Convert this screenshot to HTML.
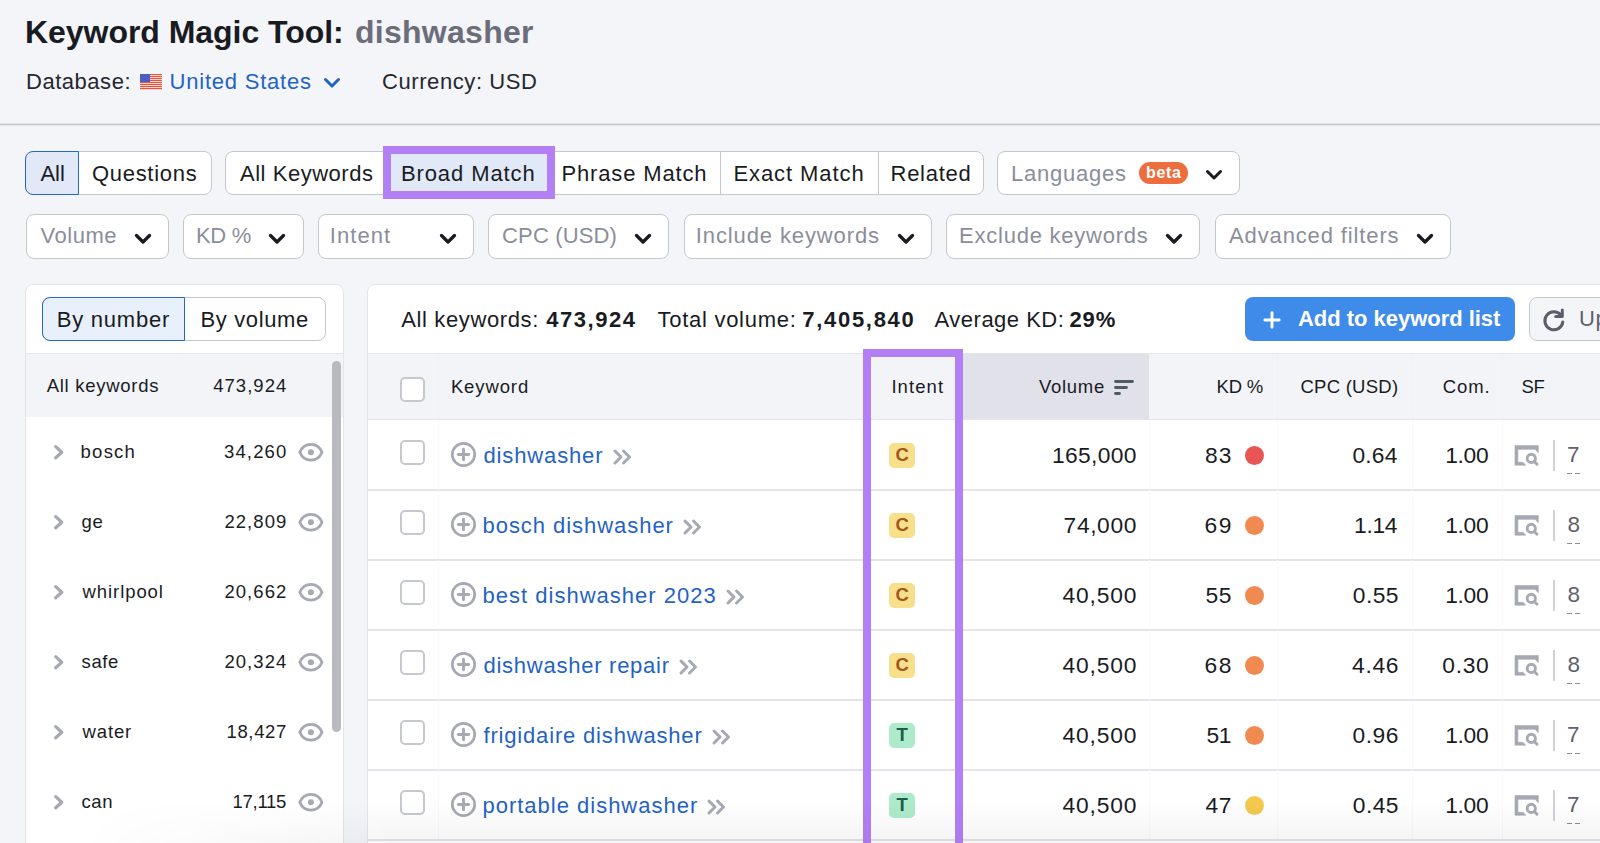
<!DOCTYPE html>
<html><head><meta charset="utf-8"><style>
html,body{margin:0;padding:0;width:1600px;height:843px;overflow:hidden;background:#f4f5f9;}
body{position:relative;font-family:'Liberation Sans', sans-serif;}
.t{position:absolute;white-space:pre;font-family:'Liberation Sans', sans-serif;}
</style></head><body>
<div class="t" style="left:25.00px;top:16.11px;font-size:32px;line-height:32px;color:#191b23;font-weight:700;letter-spacing:-0.043px;">Keyword Magic Tool:</div>
<div class="t" style="left:355.00px;top:16.11px;font-size:32px;line-height:32px;color:#6b6e7a;font-weight:700;letter-spacing:0.266px;">dishwasher</div>
<div class="t" style="left:26.00px;top:70.88px;font-size:22px;line-height:22px;color:#25272f;font-weight:400;letter-spacing:0.528px;">Database:</div>
<svg style="position:absolute;left:140px;top:74px;overflow:visible" width="22" height="16" viewBox="0 0 22 16"><rect width="22" height="16" fill="#e8523f"/><rect y="1" width="22" height="1" fill="#f4d6d0"/><rect y="3" width="22" height="1" fill="#f4d6d0"/><rect y="5" width="22" height="1" fill="#f4d6d0"/><rect y="7" width="22" height="1" fill="#f4d6d0"/><rect y="9" width="22" height="1" fill="#f4d6d0"/><rect y="11" width="22" height="1" fill="#f4d6d0"/><rect y="13" width="22" height="1" fill="#f4d6d0"/><rect y="15" width="22" height="1" fill="#f4d6d0"/><rect width="10" height="8" fill="#4f5cc2"/></svg>
<div class="t" style="left:169.60px;top:70.88px;font-size:22px;line-height:22px;color:#1f63c6;font-weight:400;letter-spacing:0.777px;">United States</div>
<svg style="position:absolute;left:322px;top:76px;overflow:visible" width="20" height="14" viewBox="0 0 20 14"><path d="M3.5 3.5 L10 10 L16.5 3.5" fill="none" stroke="#1f63c6" stroke-width="3" stroke-linecap="round" stroke-linejoin="round"/></svg>
<div class="t" style="left:382.00px;top:70.88px;font-size:22px;line-height:22px;color:#25272f;font-weight:400;letter-spacing:0.581px;">Currency: USD</div>
<div style="position:absolute;left:0px;top:123px;width:1600px;height:3px;box-sizing:border-box;background:linear-gradient(#e3e4ea 0 33.3%, #c4c7cf 33.3% 66.6%, #e3e4ea 66.6%)"></div>
<div style="position:absolute;left:25px;top:151px;width:186.5px;height:44px;box-sizing:border-box;background:#fff;border:1px solid #c4c7cf;border-radius:8px"></div>
<div style="position:absolute;left:25px;top:151px;width:54px;height:44px;box-sizing:border-box;background:#e1e9f8;border:1.5px solid #2568cc;border-radius:8px 0 0 8px;"></div>
<div class="t" style="left:40.40px;top:163.38px;font-size:22px;line-height:22px;color:#191b23;font-weight:400;letter-spacing:0.019px;">All</div>
<div class="t" style="left:91.90px;top:163.38px;font-size:22px;line-height:22px;color:#191b23;font-weight:400;letter-spacing:0.718px;">Questions</div>
<div style="position:absolute;left:225px;top:151px;width:758.5px;height:44px;box-sizing:border-box;background:#fff;border:1px solid #c4c7cf;border-radius:8px"></div>
<div class="t" style="left:240.00px;top:163.38px;font-size:22px;line-height:22px;color:#191b23;font-weight:400;letter-spacing:0.531px;">All Keywords</div>
<div style="position:absolute;left:383px;top:151px;width:172px;height:44px;box-sizing:border-box;background:#e1e9f8;border:1.5px solid #2568cc;"></div>
<div class="t" style="left:400.90px;top:163.38px;font-size:22px;line-height:22px;color:#191b23;font-weight:400;letter-spacing:0.911px;">Broad Match</div>
<div class="t" style="left:561.50px;top:163.38px;font-size:22px;line-height:22px;color:#191b23;font-weight:400;letter-spacing:0.846px;">Phrase Match</div>
<div style="position:absolute;left:720.3px;top:151px;width:1px;height:44px;box-sizing:border-box;background:#c4c7cf"></div>
<div class="t" style="left:733.40px;top:163.38px;font-size:22px;line-height:22px;color:#191b23;font-weight:400;letter-spacing:0.929px;">Exact Match</div>
<div style="position:absolute;left:877.5px;top:151px;width:1px;height:44px;box-sizing:border-box;background:#c4c7cf"></div>
<div class="t" style="left:890.60px;top:163.38px;font-size:22px;line-height:22px;color:#191b23;font-weight:400;letter-spacing:0.701px;">Related</div>
<div style="position:absolute;left:997px;top:151px;width:243px;height:44px;box-sizing:border-box;background:#fff;border:1px solid #c4c7cf;border-radius:8px"></div>
<div class="t" style="left:1011.00px;top:163.38px;font-size:22px;line-height:22px;color:#8a8e9b;font-weight:400;letter-spacing:0.765px;">Languages</div>
<div style="position:absolute;left:1139px;top:162px;width:49px;height:22px;box-sizing:border-box;background:#ee6d3d;border-radius:11px"></div>
<div class="t" style="left:1146.00px;top:165.46px;font-size:16px;line-height:16px;color:#fff;font-weight:700;letter-spacing:0.667px;">beta</div>
<svg style="position:absolute;left:1205px;top:168px;overflow:visible" width="18" height="14" viewBox="0 0 18 14"><path d="M2.5 3.5 L9 10 L15.5 3.5" fill="none" stroke="#191b23" stroke-width="3" stroke-linecap="round" stroke-linejoin="round"/></svg>
<div style="position:absolute;left:383px;top:146px;width:172px;height:52.5px;box-sizing:border-box;border:8px solid #b27ff4"></div>
<div style="position:absolute;left:25.5px;top:214px;width:143.5px;height:44.5px;box-sizing:border-box;background:#fff;border:1px solid #c4c7cf;border-radius:8px"></div>
<div class="t" style="left:40.60px;top:224.88px;font-size:22px;line-height:22px;color:#8a8e9b;font-weight:400;letter-spacing:0.491px;">Volume</div>
<svg style="position:absolute;left:133.5px;top:231.5px;overflow:visible" width="18" height="14" viewBox="0 0 18 14"><path d="M2.5 3.5 L9 10 L15.5 3.5" fill="none" stroke="#191b23" stroke-width="3.3" stroke-linecap="round" stroke-linejoin="round"/></svg>
<div style="position:absolute;left:183px;top:214px;width:120.5px;height:44.5px;box-sizing:border-box;background:#fff;border:1px solid #c4c7cf;border-radius:8px"></div>
<div class="t" style="left:196.00px;top:224.88px;font-size:22px;line-height:22px;color:#8a8e9b;font-weight:400;letter-spacing:-0.300px;">KD %</div>
<svg style="position:absolute;left:268px;top:231.5px;overflow:visible" width="18" height="14" viewBox="0 0 18 14"><path d="M2.5 3.5 L9 10 L15.5 3.5" fill="none" stroke="#191b23" stroke-width="3.3" stroke-linecap="round" stroke-linejoin="round"/></svg>
<div style="position:absolute;left:317.5px;top:214px;width:156.8px;height:44.5px;box-sizing:border-box;background:#fff;border:1px solid #c4c7cf;border-radius:8px"></div>
<div class="t" style="left:329.80px;top:224.88px;font-size:22px;line-height:22px;color:#8a8e9b;font-weight:400;letter-spacing:1.054px;">Intent</div>
<svg style="position:absolute;left:439px;top:231.5px;overflow:visible" width="18" height="14" viewBox="0 0 18 14"><path d="M2.5 3.5 L9 10 L15.5 3.5" fill="none" stroke="#191b23" stroke-width="3.3" stroke-linecap="round" stroke-linejoin="round"/></svg>
<div style="position:absolute;left:488px;top:214px;width:180.79999999999995px;height:44.5px;box-sizing:border-box;background:#fff;border:1px solid #c4c7cf;border-radius:8px"></div>
<div class="t" style="left:502.00px;top:224.88px;font-size:22px;line-height:22px;color:#8a8e9b;font-weight:400;letter-spacing:0.158px;">CPC (USD)</div>
<svg style="position:absolute;left:634px;top:231.5px;overflow:visible" width="18" height="14" viewBox="0 0 18 14"><path d="M2.5 3.5 L9 10 L15.5 3.5" fill="none" stroke="#191b23" stroke-width="3.3" stroke-linecap="round" stroke-linejoin="round"/></svg>
<div style="position:absolute;left:683.5px;top:214px;width:248.5px;height:44.5px;box-sizing:border-box;background:#fff;border:1px solid #c4c7cf;border-radius:8px"></div>
<div class="t" style="left:695.80px;top:224.88px;font-size:22px;line-height:22px;color:#8a8e9b;font-weight:400;letter-spacing:0.882px;">Include keywords</div>
<svg style="position:absolute;left:897px;top:231.5px;overflow:visible" width="18" height="14" viewBox="0 0 18 14"><path d="M2.5 3.5 L9 10 L15.5 3.5" fill="none" stroke="#191b23" stroke-width="3.3" stroke-linecap="round" stroke-linejoin="round"/></svg>
<div style="position:absolute;left:946px;top:214px;width:254px;height:44.5px;box-sizing:border-box;background:#fff;border:1px solid #c4c7cf;border-radius:8px"></div>
<div class="t" style="left:959.00px;top:224.88px;font-size:22px;line-height:22px;color:#8a8e9b;font-weight:400;letter-spacing:0.767px;">Exclude keywords</div>
<svg style="position:absolute;left:1165px;top:231.5px;overflow:visible" width="18" height="14" viewBox="0 0 18 14"><path d="M2.5 3.5 L9 10 L15.5 3.5" fill="none" stroke="#191b23" stroke-width="3.3" stroke-linecap="round" stroke-linejoin="round"/></svg>
<div style="position:absolute;left:1214.5px;top:214px;width:236.79999999999995px;height:44.5px;box-sizing:border-box;background:#fff;border:1px solid #c4c7cf;border-radius:8px"></div>
<div class="t" style="left:1229.00px;top:224.88px;font-size:22px;line-height:22px;color:#8a8e9b;font-weight:400;letter-spacing:0.872px;">Advanced filters</div>
<svg style="position:absolute;left:1416px;top:231.5px;overflow:visible" width="18" height="14" viewBox="0 0 18 14"><path d="M2.5 3.5 L9 10 L15.5 3.5" fill="none" stroke="#191b23" stroke-width="3.3" stroke-linecap="round" stroke-linejoin="round"/></svg>
<div style="position:absolute;left:25px;top:284px;width:319px;height:600px;box-sizing:border-box;background:#fff;border:1px solid #e3e5ea;border-radius:8px"></div>
<div style="position:absolute;left:42px;top:297px;width:283.5px;height:44px;box-sizing:border-box;background:#fff;border:1px solid #c4c7cf;border-radius:8px"></div>
<div style="position:absolute;left:42px;top:297px;width:142.5px;height:44px;box-sizing:border-box;background:#e8f0fb;border:1.5px solid #2568cc;border-radius:8px 0 0 8px"></div>
<div class="t" style="left:56.70px;top:308.88px;font-size:22px;line-height:22px;color:#191b23;font-weight:400;letter-spacing:0.768px;">By number</div>
<div class="t" style="left:200.40px;top:308.88px;font-size:22px;line-height:22px;color:#191b23;font-weight:400;letter-spacing:0.654px;">By volume</div>
<div style="position:absolute;left:26px;top:353px;width:317px;height:1px;box-sizing:border-box;background:#e3e5ea"></div>
<div style="position:absolute;left:26px;top:354px;width:317px;height:63px;box-sizing:border-box;background:#f3f4f8"></div>
<div class="t" style="left:46.70px;top:377.34px;font-size:18.5px;line-height:18.5px;color:#191b23;font-weight:400;letter-spacing:0.719px;">All keywords</div>
<div class="t" style="left:213.20px;top:377.34px;font-size:18.5px;line-height:18.5px;color:#191b23;font-weight:400;letter-spacing:1.036px;">473,924</div>
<svg style="position:absolute;left:52px;top:443px;overflow:visible" width="14" height="18" viewBox="0 0 14 18"><path d="M3.7 3.6 L9.8 9.2 L3.7 14.8" fill="none" stroke="#a6a9b3" stroke-width="3.2" stroke-linecap="round" stroke-linejoin="round"/></svg>
<div class="t" style="left:80.60px;top:443.14px;font-size:18.5px;line-height:18.5px;color:#191b23;font-weight:400;letter-spacing:1.231px;">bosch</div>
<div class="t" style="left:224.00px;top:443.14px;font-size:18.5px;line-height:18.5px;color:#191b23;font-weight:400;letter-spacing:1.141px;">34,260</div>
<svg style="position:absolute;left:297px;top:442px;overflow:visible" width="28" height="20" viewBox="0 0 28 20"><path d="M2.8 10.3 C5 5 9 2.4 13.9 2.4 C18.8 2.4 22.8 5 25 10.3 C22.8 15.6 18.8 18.2 13.9 18.2 C9 18.2 5 15.6 2.8 10.3 Z" fill="none" stroke="#a6a9b3" stroke-width="2.8"/><circle cx="13.9" cy="10.3" r="3" fill="#a6a9b3"/></svg>
<svg style="position:absolute;left:52px;top:513px;overflow:visible" width="14" height="18" viewBox="0 0 14 18"><path d="M3.7 3.6 L9.8 9.2 L3.7 14.8" fill="none" stroke="#a6a9b3" stroke-width="3.2" stroke-linecap="round" stroke-linejoin="round"/></svg>
<div class="t" style="left:81.60px;top:513.14px;font-size:18.5px;line-height:18.5px;color:#191b23;font-weight:400;letter-spacing:0.511px;">ge</div>
<div class="t" style="left:224.40px;top:513.14px;font-size:18.5px;line-height:18.5px;color:#191b23;font-weight:400;letter-spacing:1.061px;">22,809</div>
<svg style="position:absolute;left:297px;top:512px;overflow:visible" width="28" height="20" viewBox="0 0 28 20"><path d="M2.8 10.3 C5 5 9 2.4 13.9 2.4 C18.8 2.4 22.8 5 25 10.3 C22.8 15.6 18.8 18.2 13.9 18.2 C9 18.2 5 15.6 2.8 10.3 Z" fill="none" stroke="#a6a9b3" stroke-width="2.8"/><circle cx="13.9" cy="10.3" r="3" fill="#a6a9b3"/></svg>
<svg style="position:absolute;left:52px;top:583px;overflow:visible" width="14" height="18" viewBox="0 0 14 18"><path d="M3.7 3.6 L9.8 9.2 L3.7 14.8" fill="none" stroke="#a6a9b3" stroke-width="3.2" stroke-linecap="round" stroke-linejoin="round"/></svg>
<div class="t" style="left:82.60px;top:583.14px;font-size:18.5px;line-height:18.5px;color:#191b23;font-weight:400;letter-spacing:0.913px;">whirlpool</div>
<div class="t" style="left:224.40px;top:583.14px;font-size:18.5px;line-height:18.5px;color:#191b23;font-weight:400;letter-spacing:1.061px;">20,662</div>
<svg style="position:absolute;left:297px;top:582px;overflow:visible" width="28" height="20" viewBox="0 0 28 20"><path d="M2.8 10.3 C5 5 9 2.4 13.9 2.4 C18.8 2.4 22.8 5 25 10.3 C22.8 15.6 18.8 18.2 13.9 18.2 C9 18.2 5 15.6 2.8 10.3 Z" fill="none" stroke="#a6a9b3" stroke-width="2.8"/><circle cx="13.9" cy="10.3" r="3" fill="#a6a9b3"/></svg>
<svg style="position:absolute;left:52px;top:653px;overflow:visible" width="14" height="18" viewBox="0 0 14 18"><path d="M3.7 3.6 L9.8 9.2 L3.7 14.8" fill="none" stroke="#a6a9b3" stroke-width="3.2" stroke-linecap="round" stroke-linejoin="round"/></svg>
<div class="t" style="left:81.60px;top:653.14px;font-size:18.5px;line-height:18.5px;color:#191b23;font-weight:400;letter-spacing:0.574px;">safe</div>
<div class="t" style="left:224.40px;top:653.14px;font-size:18.5px;line-height:18.5px;color:#191b23;font-weight:400;letter-spacing:1.061px;">20,324</div>
<svg style="position:absolute;left:297px;top:652px;overflow:visible" width="28" height="20" viewBox="0 0 28 20"><path d="M2.8 10.3 C5 5 9 2.4 13.9 2.4 C18.8 2.4 22.8 5 25 10.3 C22.8 15.6 18.8 18.2 13.9 18.2 C9 18.2 5 15.6 2.8 10.3 Z" fill="none" stroke="#a6a9b3" stroke-width="2.8"/><circle cx="13.9" cy="10.3" r="3" fill="#a6a9b3"/></svg>
<svg style="position:absolute;left:52px;top:723px;overflow:visible" width="14" height="18" viewBox="0 0 14 18"><path d="M3.7 3.6 L9.8 9.2 L3.7 14.8" fill="none" stroke="#a6a9b3" stroke-width="3.2" stroke-linecap="round" stroke-linejoin="round"/></svg>
<div class="t" style="left:82.60px;top:723.14px;font-size:18.5px;line-height:18.5px;color:#191b23;font-weight:400;letter-spacing:0.831px;">water</div>
<div class="t" style="left:226.50px;top:723.14px;font-size:18.5px;line-height:18.5px;color:#191b23;font-weight:400;letter-spacing:0.641px;">18,427</div>
<svg style="position:absolute;left:297px;top:722px;overflow:visible" width="28" height="20" viewBox="0 0 28 20"><path d="M2.8 10.3 C5 5 9 2.4 13.9 2.4 C18.8 2.4 22.8 5 25 10.3 C22.8 15.6 18.8 18.2 13.9 18.2 C9 18.2 5 15.6 2.8 10.3 Z" fill="none" stroke="#a6a9b3" stroke-width="2.8"/><circle cx="13.9" cy="10.3" r="3" fill="#a6a9b3"/></svg>
<svg style="position:absolute;left:52px;top:793px;overflow:visible" width="14" height="18" viewBox="0 0 14 18"><path d="M3.7 3.6 L9.8 9.2 L3.7 14.8" fill="none" stroke="#a6a9b3" stroke-width="3.2" stroke-linecap="round" stroke-linejoin="round"/></svg>
<div class="t" style="left:81.60px;top:793.14px;font-size:18.5px;line-height:18.5px;color:#191b23;font-weight:400;letter-spacing:0.531px;">can</div>
<div class="t" style="left:232.58px;top:793.14px;font-size:18.5px;line-height:18.5px;color:#191b23;font-weight:400;letter-spacing:-0.300px;">17,115</div>
<svg style="position:absolute;left:297px;top:792px;overflow:visible" width="28" height="20" viewBox="0 0 28 20"><path d="M2.8 10.3 C5 5 9 2.4 13.9 2.4 C18.8 2.4 22.8 5 25 10.3 C22.8 15.6 18.8 18.2 13.9 18.2 C9 18.2 5 15.6 2.8 10.3 Z" fill="none" stroke="#a6a9b3" stroke-width="2.8"/><circle cx="13.9" cy="10.3" r="3" fill="#a6a9b3"/></svg>
<div style="position:absolute;left:332px;top:360.5px;width:9px;height:371px;box-sizing:border-box;background:#b9bac0;border-radius:4.5px"></div>
<div style="position:absolute;left:367px;top:284px;width:1300px;height:600px;box-sizing:border-box;background:#fff;border:1px solid #e3e5ea;border-radius:8px"></div>
<div class="t" style="left:401.30px;top:309.08px;font-size:22px;line-height:22px;color:#191b23;font-weight:400;letter-spacing:0.618px;">All keywords:</div>
<div class="t" style="left:546.30px;top:309.08px;font-size:22px;line-height:22px;color:#191b23;font-weight:700;letter-spacing:1.535px;">473,924</div>
<div class="t" style="left:657.50px;top:309.08px;font-size:22px;line-height:22px;color:#191b23;font-weight:400;letter-spacing:0.725px;">Total volume:</div>
<div class="t" style="left:802.30px;top:309.08px;font-size:22px;line-height:22px;color:#191b23;font-weight:700;letter-spacing:1.695px;">7,405,840</div>
<div class="t" style="left:934.60px;top:309.08px;font-size:22px;line-height:22px;color:#191b23;font-weight:400;letter-spacing:0.488px;">Average KD:</div>
<div class="t" style="left:1069.40px;top:309.08px;font-size:22px;line-height:22px;color:#191b23;font-weight:700;letter-spacing:0.915px;">29%</div>
<div style="position:absolute;left:1245px;top:297px;width:270px;height:44px;box-sizing:border-box;background:#3f8bea;border-radius:8px"></div>
<svg style="position:absolute;left:1262px;top:310px;overflow:visible" width="20" height="20" viewBox="0 0 20 20"><path d="M10 2.8 V17.2 M2.8 10 H17.2" stroke="#fff" stroke-width="2.9" stroke-linecap="round"/></svg>
<div class="t" style="left:1298.00px;top:308.38px;font-size:22px;line-height:22px;color:#fff;font-weight:700;letter-spacing:-0.032px;">Add to keyword list</div>
<div style="position:absolute;left:1528.5px;top:297px;width:120px;height:44px;box-sizing:border-box;background:#f4f5f9;border:1px solid #c4c7cf;border-radius:8px"></div>
<svg style="position:absolute;left:1541px;top:307px;overflow:visible" width="26" height="26" viewBox="0 0 26 26"><path d="M20 8.3 A9 9 0 1 0 21.8 15" fill="none" stroke="#5b5e69" stroke-width="3" stroke-linecap="round"/><path d="M21.3 3 V9.6 H14.7" fill="none" stroke="#5b5e69" stroke-width="3" stroke-linecap="round" stroke-linejoin="round"/></svg>
<div class="t" style="left:1579.00px;top:308.38px;font-size:22px;line-height:22px;color:#5e616c;font-weight:400;letter-spacing:0.500px;">Update</div>
<div style="position:absolute;left:368px;top:353px;width:1232px;height:1px;box-sizing:border-box;background:#e3e5ea"></div>
<div style="position:absolute;left:368px;top:354px;width:1232px;height:66px;box-sizing:border-box;background:#f3f4f8"></div>
<div style="position:absolute;left:955px;top:354px;width:194px;height:66px;box-sizing:border-box;background:#e0e1e9"></div>
<div style="position:absolute;left:437.5px;top:354px;width:1px;height:66px;box-sizing:border-box;background:#f0f1f5"></div>
<div style="position:absolute;left:1276.5px;top:354px;width:1px;height:66px;box-sizing:border-box;background:#f0f1f5"></div>
<div style="position:absolute;left:1411.5px;top:354px;width:1px;height:66px;box-sizing:border-box;background:#f0f1f5"></div>
<div style="position:absolute;left:1501.5px;top:354px;width:1px;height:66px;box-sizing:border-box;background:#f0f1f5"></div>
<div style="position:absolute;left:368px;top:418.8px;width:1232px;height:1.6px;box-sizing:border-box;background:#e3e5ea"></div>
<div style="position:absolute;left:400px;top:376.5px;width:25px;height:25px;box-sizing:border-box;background:#fff;border:2px solid #c6c8d0;border-radius:5px"></div>
<div class="t" style="left:450.90px;top:378.34px;font-size:18.5px;line-height:18.5px;color:#191b23;font-weight:400;letter-spacing:0.885px;">Keyword</div>
<div class="t" style="left:891.40px;top:378.34px;font-size:18.5px;line-height:18.5px;color:#191b23;font-weight:400;letter-spacing:1.091px;">Intent</div>
<div class="t" style="left:1039.00px;top:378.34px;font-size:18.5px;line-height:18.5px;color:#191b23;font-weight:400;letter-spacing:0.717px;">Volume</div>
<svg style="position:absolute;left:1113px;top:379px;overflow:visible" width="22" height="17" viewBox="0 0 22 17"><path d="M2.5 2.5 H19.5 M2.5 8.5 H13.5 M2.5 14.5 H6.5" stroke="#4f5b5f" stroke-width="2.8" stroke-linecap="round"/></svg>
<div class="t" style="left:1216.60px;top:378.34px;font-size:18.5px;line-height:18.5px;color:#191b23;font-weight:400;letter-spacing:-0.213px;">KD %</div>
<div class="t" style="left:1300.40px;top:378.34px;font-size:18.5px;line-height:18.5px;color:#191b23;font-weight:400;letter-spacing:0.273px;">CPC (USD)</div>
<div class="t" style="left:1442.80px;top:378.34px;font-size:18.5px;line-height:18.5px;color:#191b23;font-weight:400;letter-spacing:0.880px;">Com.</div>
<div class="t" style="left:1521.38px;top:378.34px;font-size:18.5px;line-height:18.5px;color:#191b23;font-weight:400;letter-spacing:-0.300px;">SF</div>
<div style="position:absolute;left:437.5px;top:420px;width:1px;height:69px;box-sizing:border-box;background:#f9f9fb"></div>
<div style="position:absolute;left:1149px;top:420px;width:1px;height:69px;box-sizing:border-box;background:#f9f9fb"></div>
<div style="position:absolute;left:1276.5px;top:420px;width:1px;height:69px;box-sizing:border-box;background:#f9f9fb"></div>
<div style="position:absolute;left:1411.5px;top:420px;width:1px;height:69px;box-sizing:border-box;background:#f9f9fb"></div>
<div style="position:absolute;left:1501.5px;top:420px;width:1px;height:69px;box-sizing:border-box;background:#f9f9fb"></div>
<div style="position:absolute;left:368px;top:489px;width:1232px;height:1.6px;box-sizing:border-box;background:#e4e5eb"></div>
<div style="position:absolute;left:400px;top:440px;width:25px;height:25px;box-sizing:border-box;background:#fff;border:2px solid #c6c8d0;border-radius:5px"></div>
<svg style="position:absolute;left:450px;top:440.5px;overflow:visible" width="27" height="27" viewBox="0 0 27 27"><circle cx="13.5" cy="13.5" r="11.2" fill="none" stroke="#a6a9b3" stroke-width="2.7"/><path d="M13.5 8.3 V18.7 M8.3 13.5 H18.7" stroke="#a6a9b3" stroke-width="2.9" stroke-linecap="round"/></svg>
<div class="t" style="left:483.50px;top:445.38px;font-size:22px;line-height:22px;color:#1f63c6;font-weight:400;letter-spacing:0.861px;">dishwasher</div>
<svg style="position:absolute;left:612.7px;top:449px;overflow:visible" width="20" height="16" viewBox="0 0 20 16"><path d="M2 2 L8 8 L2 14 M10.5 2 L16.5 8 L10.5 14" fill="none" stroke="#a6a9b3" stroke-width="3" stroke-linecap="round" stroke-linejoin="round"/></svg>
<div style="position:absolute;left:889px;top:443.4px;width:25.5px;height:25px;box-sizing:border-box;background:#f8df8c;border-radius:5px"></div>
<div class="t" style="left:895.60px;top:445.84px;font-size:18.5px;line-height:18.5px;color:#a0561c;font-weight:700;letter-spacing:0.000px;">C</div>
<div class="t" style="left:1052.00px;top:444.20px;font-size:22.8px;line-height:22.8px;color:#191b23;font-weight:400;letter-spacing:0.329px;">165,000</div>
<div class="t" style="left:1205.00px;top:444.20px;font-size:22.8px;line-height:22.8px;color:#191b23;font-weight:400;letter-spacing:1.121px;">83</div>
<div style="position:absolute;left:1245px;top:446px;width:19px;height:19px;border-radius:50%;background:#e95454"></div>
<div class="t" style="left:1352.40px;top:444.20px;font-size:22.8px;line-height:22.8px;color:#191b23;font-weight:400;letter-spacing:0.236px;">0.64</div>
<div class="t" style="left:1445.21px;top:444.20px;font-size:22.8px;line-height:22.8px;color:#191b23;font-weight:400;letter-spacing:-0.300px;">1.00</div>
<svg style="position:absolute;left:1514px;top:444.5px;overflow:visible" width="26" height="22" viewBox="0 0 26 22"><path d="M1 0.5 H24.3 V7.7 L21 4.3 H3.9 V17.3 H9.1 L11.7 20.2 H1 Z" fill="#a6a9b3" stroke="#a6a9b3" stroke-width="0.6" stroke-linejoin="round"/><circle cx="17.3" cy="13.4" r="4.1" fill="none" stroke="#a6a9b3" stroke-width="2.9"/><path d="M20.3 16.5 L23 19.3" stroke="#a6a9b3" stroke-width="2.9" stroke-linecap="round"/></svg>
<div style="position:absolute;left:1553px;top:439.5px;width:1.5px;height:31px;box-sizing:border-box;background:#d0d2d9"></div>
<div class="t" style="left:1567.00px;top:444.45px;font-size:22.5px;line-height:22.5px;color:#5e616c;font-weight:400;letter-spacing:0.000px;">7</div>
<div style="position:absolute;left:1567px;top:472.5px;width:5px;height:1.5px;box-sizing:border-box;background:#8a8e9b"></div>
<div style="position:absolute;left:1575px;top:472.5px;width:5px;height:1.5px;box-sizing:border-box;background:#8a8e9b"></div>
<div style="position:absolute;left:437.5px;top:490px;width:1px;height:69px;box-sizing:border-box;background:#f9f9fb"></div>
<div style="position:absolute;left:1149px;top:490px;width:1px;height:69px;box-sizing:border-box;background:#f9f9fb"></div>
<div style="position:absolute;left:1276.5px;top:490px;width:1px;height:69px;box-sizing:border-box;background:#f9f9fb"></div>
<div style="position:absolute;left:1411.5px;top:490px;width:1px;height:69px;box-sizing:border-box;background:#f9f9fb"></div>
<div style="position:absolute;left:1501.5px;top:490px;width:1px;height:69px;box-sizing:border-box;background:#f9f9fb"></div>
<div style="position:absolute;left:368px;top:559px;width:1232px;height:1.6px;box-sizing:border-box;background:#e4e5eb"></div>
<div style="position:absolute;left:400px;top:510px;width:25px;height:25px;box-sizing:border-box;background:#fff;border:2px solid #c6c8d0;border-radius:5px"></div>
<svg style="position:absolute;left:450px;top:510.5px;overflow:visible" width="27" height="27" viewBox="0 0 27 27"><circle cx="13.5" cy="13.5" r="11.2" fill="none" stroke="#a6a9b3" stroke-width="2.7"/><path d="M13.5 8.3 V18.7 M8.3 13.5 H18.7" stroke="#a6a9b3" stroke-width="2.9" stroke-linecap="round"/></svg>
<div class="t" style="left:482.50px;top:515.38px;font-size:22px;line-height:22px;color:#1f63c6;font-weight:400;letter-spacing:0.955px;">bosch dishwasher</div>
<svg style="position:absolute;left:683.1px;top:519px;overflow:visible" width="20" height="16" viewBox="0 0 20 16"><path d="M2 2 L8 8 L2 14 M10.5 2 L16.5 8 L10.5 14" fill="none" stroke="#a6a9b3" stroke-width="3" stroke-linecap="round" stroke-linejoin="round"/></svg>
<div style="position:absolute;left:889px;top:513.4px;width:25.5px;height:25px;box-sizing:border-box;background:#f8df8c;border-radius:5px"></div>
<div class="t" style="left:895.60px;top:515.84px;font-size:18.5px;line-height:18.5px;color:#a0561c;font-weight:700;letter-spacing:0.000px;">C</div>
<div class="t" style="left:1063.60px;top:514.20px;font-size:22.8px;line-height:22.8px;color:#191b23;font-weight:400;letter-spacing:0.610px;">74,000</div>
<div class="t" style="left:1204.42px;top:514.20px;font-size:22.8px;line-height:22.8px;color:#191b23;font-weight:400;letter-spacing:1.700px;">69</div>
<div style="position:absolute;left:1245px;top:516px;width:19px;height:19px;border-radius:50%;background:#f08a50"></div>
<div class="t" style="left:1354.01px;top:514.20px;font-size:22.8px;line-height:22.8px;color:#191b23;font-weight:400;letter-spacing:-0.300px;">1.14</div>
<div class="t" style="left:1445.21px;top:514.20px;font-size:22.8px;line-height:22.8px;color:#191b23;font-weight:400;letter-spacing:-0.300px;">1.00</div>
<svg style="position:absolute;left:1514px;top:514.5px;overflow:visible" width="26" height="22" viewBox="0 0 26 22"><path d="M1 0.5 H24.3 V7.7 L21 4.3 H3.9 V17.3 H9.1 L11.7 20.2 H1 Z" fill="#a6a9b3" stroke="#a6a9b3" stroke-width="0.6" stroke-linejoin="round"/><circle cx="17.3" cy="13.4" r="4.1" fill="none" stroke="#a6a9b3" stroke-width="2.9"/><path d="M20.3 16.5 L23 19.3" stroke="#a6a9b3" stroke-width="2.9" stroke-linecap="round"/></svg>
<div style="position:absolute;left:1553px;top:509.5px;width:1.5px;height:31px;box-sizing:border-box;background:#d0d2d9"></div>
<div class="t" style="left:1567.50px;top:514.45px;font-size:22.5px;line-height:22.5px;color:#5e616c;font-weight:400;letter-spacing:0.000px;">8</div>
<div style="position:absolute;left:1567px;top:542.5px;width:5px;height:1.5px;box-sizing:border-box;background:#8a8e9b"></div>
<div style="position:absolute;left:1575px;top:542.5px;width:5px;height:1.5px;box-sizing:border-box;background:#8a8e9b"></div>
<div style="position:absolute;left:437.5px;top:560px;width:1px;height:69px;box-sizing:border-box;background:#f9f9fb"></div>
<div style="position:absolute;left:1149px;top:560px;width:1px;height:69px;box-sizing:border-box;background:#f9f9fb"></div>
<div style="position:absolute;left:1276.5px;top:560px;width:1px;height:69px;box-sizing:border-box;background:#f9f9fb"></div>
<div style="position:absolute;left:1411.5px;top:560px;width:1px;height:69px;box-sizing:border-box;background:#f9f9fb"></div>
<div style="position:absolute;left:1501.5px;top:560px;width:1px;height:69px;box-sizing:border-box;background:#f9f9fb"></div>
<div style="position:absolute;left:368px;top:629px;width:1232px;height:1.6px;box-sizing:border-box;background:#e4e5eb"></div>
<div style="position:absolute;left:400px;top:580px;width:25px;height:25px;box-sizing:border-box;background:#fff;border:2px solid #c6c8d0;border-radius:5px"></div>
<svg style="position:absolute;left:450px;top:580.5px;overflow:visible" width="27" height="27" viewBox="0 0 27 27"><circle cx="13.5" cy="13.5" r="11.2" fill="none" stroke="#a6a9b3" stroke-width="2.7"/><path d="M13.5 8.3 V18.7 M8.3 13.5 H18.7" stroke="#a6a9b3" stroke-width="2.9" stroke-linecap="round"/></svg>
<div class="t" style="left:482.50px;top:585.38px;font-size:22px;line-height:22px;color:#1f63c6;font-weight:400;letter-spacing:1.016px;">best dishwasher 2023</div>
<svg style="position:absolute;left:726.1px;top:589px;overflow:visible" width="20" height="16" viewBox="0 0 20 16"><path d="M2 2 L8 8 L2 14 M10.5 2 L16.5 8 L10.5 14" fill="none" stroke="#a6a9b3" stroke-width="3" stroke-linecap="round" stroke-linejoin="round"/></svg>
<div style="position:absolute;left:889px;top:583.4px;width:25.5px;height:25px;box-sizing:border-box;background:#f8df8c;border-radius:5px"></div>
<div class="t" style="left:895.60px;top:585.84px;font-size:18.5px;line-height:18.5px;color:#a0561c;font-weight:700;letter-spacing:0.000px;">C</div>
<div class="t" style="left:1062.50px;top:584.20px;font-size:22.8px;line-height:22.8px;color:#191b23;font-weight:400;letter-spacing:0.830px;">40,500</div>
<div class="t" style="left:1205.50px;top:584.20px;font-size:22.8px;line-height:22.8px;color:#191b23;font-weight:400;letter-spacing:0.621px;">55</div>
<div style="position:absolute;left:1245px;top:586px;width:19px;height:19px;border-radius:50%;background:#f08a50"></div>
<div class="t" style="left:1352.80px;top:584.20px;font-size:22.8px;line-height:22.8px;color:#191b23;font-weight:400;letter-spacing:0.436px;">0.55</div>
<div class="t" style="left:1445.21px;top:584.20px;font-size:22.8px;line-height:22.8px;color:#191b23;font-weight:400;letter-spacing:-0.300px;">1.00</div>
<svg style="position:absolute;left:1514px;top:584.5px;overflow:visible" width="26" height="22" viewBox="0 0 26 22"><path d="M1 0.5 H24.3 V7.7 L21 4.3 H3.9 V17.3 H9.1 L11.7 20.2 H1 Z" fill="#a6a9b3" stroke="#a6a9b3" stroke-width="0.6" stroke-linejoin="round"/><circle cx="17.3" cy="13.4" r="4.1" fill="none" stroke="#a6a9b3" stroke-width="2.9"/><path d="M20.3 16.5 L23 19.3" stroke="#a6a9b3" stroke-width="2.9" stroke-linecap="round"/></svg>
<div style="position:absolute;left:1553px;top:579.5px;width:1.5px;height:31px;box-sizing:border-box;background:#d0d2d9"></div>
<div class="t" style="left:1567.50px;top:584.45px;font-size:22.5px;line-height:22.5px;color:#5e616c;font-weight:400;letter-spacing:0.000px;">8</div>
<div style="position:absolute;left:1567px;top:612.5px;width:5px;height:1.5px;box-sizing:border-box;background:#8a8e9b"></div>
<div style="position:absolute;left:1575px;top:612.5px;width:5px;height:1.5px;box-sizing:border-box;background:#8a8e9b"></div>
<div style="position:absolute;left:437.5px;top:630px;width:1px;height:69px;box-sizing:border-box;background:#f9f9fb"></div>
<div style="position:absolute;left:1149px;top:630px;width:1px;height:69px;box-sizing:border-box;background:#f9f9fb"></div>
<div style="position:absolute;left:1276.5px;top:630px;width:1px;height:69px;box-sizing:border-box;background:#f9f9fb"></div>
<div style="position:absolute;left:1411.5px;top:630px;width:1px;height:69px;box-sizing:border-box;background:#f9f9fb"></div>
<div style="position:absolute;left:1501.5px;top:630px;width:1px;height:69px;box-sizing:border-box;background:#f9f9fb"></div>
<div style="position:absolute;left:368px;top:699px;width:1232px;height:1.6px;box-sizing:border-box;background:#e4e5eb"></div>
<div style="position:absolute;left:400px;top:650px;width:25px;height:25px;box-sizing:border-box;background:#fff;border:2px solid #c6c8d0;border-radius:5px"></div>
<svg style="position:absolute;left:450px;top:650.5px;overflow:visible" width="27" height="27" viewBox="0 0 27 27"><circle cx="13.5" cy="13.5" r="11.2" fill="none" stroke="#a6a9b3" stroke-width="2.7"/><path d="M13.5 8.3 V18.7 M8.3 13.5 H18.7" stroke="#a6a9b3" stroke-width="2.9" stroke-linecap="round"/></svg>
<div class="t" style="left:483.50px;top:655.38px;font-size:22px;line-height:22px;color:#1f63c6;font-weight:400;letter-spacing:0.743px;">dishwasher repair</div>
<svg style="position:absolute;left:679.2px;top:659px;overflow:visible" width="20" height="16" viewBox="0 0 20 16"><path d="M2 2 L8 8 L2 14 M10.5 2 L16.5 8 L10.5 14" fill="none" stroke="#a6a9b3" stroke-width="3" stroke-linecap="round" stroke-linejoin="round"/></svg>
<div style="position:absolute;left:889px;top:653.4px;width:25.5px;height:25px;box-sizing:border-box;background:#f8df8c;border-radius:5px"></div>
<div class="t" style="left:895.60px;top:655.84px;font-size:18.5px;line-height:18.5px;color:#a0561c;font-weight:700;letter-spacing:0.000px;">C</div>
<div class="t" style="left:1062.50px;top:654.20px;font-size:22.8px;line-height:22.8px;color:#191b23;font-weight:400;letter-spacing:0.830px;">40,500</div>
<div class="t" style="left:1204.42px;top:654.20px;font-size:22.8px;line-height:22.8px;color:#191b23;font-weight:400;letter-spacing:1.700px;">68</div>
<div style="position:absolute;left:1245px;top:656px;width:19px;height:19px;border-radius:50%;background:#f08a50"></div>
<div class="t" style="left:1352.00px;top:654.20px;font-size:22.8px;line-height:22.8px;color:#191b23;font-weight:400;letter-spacing:0.703px;">4.46</div>
<div class="t" style="left:1442.30px;top:654.20px;font-size:22.8px;line-height:22.8px;color:#191b23;font-weight:400;letter-spacing:0.670px;">0.30</div>
<svg style="position:absolute;left:1514px;top:654.5px;overflow:visible" width="26" height="22" viewBox="0 0 26 22"><path d="M1 0.5 H24.3 V7.7 L21 4.3 H3.9 V17.3 H9.1 L11.7 20.2 H1 Z" fill="#a6a9b3" stroke="#a6a9b3" stroke-width="0.6" stroke-linejoin="round"/><circle cx="17.3" cy="13.4" r="4.1" fill="none" stroke="#a6a9b3" stroke-width="2.9"/><path d="M20.3 16.5 L23 19.3" stroke="#a6a9b3" stroke-width="2.9" stroke-linecap="round"/></svg>
<div style="position:absolute;left:1553px;top:649.5px;width:1.5px;height:31px;box-sizing:border-box;background:#d0d2d9"></div>
<div class="t" style="left:1567.50px;top:654.45px;font-size:22.5px;line-height:22.5px;color:#5e616c;font-weight:400;letter-spacing:0.000px;">8</div>
<div style="position:absolute;left:1567px;top:682.5px;width:5px;height:1.5px;box-sizing:border-box;background:#8a8e9b"></div>
<div style="position:absolute;left:1575px;top:682.5px;width:5px;height:1.5px;box-sizing:border-box;background:#8a8e9b"></div>
<div style="position:absolute;left:437.5px;top:700px;width:1px;height:69px;box-sizing:border-box;background:#f9f9fb"></div>
<div style="position:absolute;left:1149px;top:700px;width:1px;height:69px;box-sizing:border-box;background:#f9f9fb"></div>
<div style="position:absolute;left:1276.5px;top:700px;width:1px;height:69px;box-sizing:border-box;background:#f9f9fb"></div>
<div style="position:absolute;left:1411.5px;top:700px;width:1px;height:69px;box-sizing:border-box;background:#f9f9fb"></div>
<div style="position:absolute;left:1501.5px;top:700px;width:1px;height:69px;box-sizing:border-box;background:#f9f9fb"></div>
<div style="position:absolute;left:368px;top:769px;width:1232px;height:1.6px;box-sizing:border-box;background:#e4e5eb"></div>
<div style="position:absolute;left:400px;top:720px;width:25px;height:25px;box-sizing:border-box;background:#fff;border:2px solid #c6c8d0;border-radius:5px"></div>
<svg style="position:absolute;left:450px;top:720.5px;overflow:visible" width="27" height="27" viewBox="0 0 27 27"><circle cx="13.5" cy="13.5" r="11.2" fill="none" stroke="#a6a9b3" stroke-width="2.7"/><path d="M13.5 8.3 V18.7 M8.3 13.5 H18.7" stroke="#a6a9b3" stroke-width="2.9" stroke-linecap="round"/></svg>
<div class="t" style="left:483.50px;top:725.38px;font-size:22px;line-height:22px;color:#1f63c6;font-weight:400;letter-spacing:0.823px;">frigidaire dishwasher</div>
<svg style="position:absolute;left:711.9px;top:729px;overflow:visible" width="20" height="16" viewBox="0 0 20 16"><path d="M2 2 L8 8 L2 14 M10.5 2 L16.5 8 L10.5 14" fill="none" stroke="#a6a9b3" stroke-width="3" stroke-linecap="round" stroke-linejoin="round"/></svg>
<div style="position:absolute;left:889px;top:723.4px;width:25.5px;height:25px;box-sizing:border-box;background:#aeebca;border-radius:5px"></div>
<div class="t" style="left:896.40px;top:725.74px;font-size:18.5px;line-height:18.5px;color:#1b5c4a;font-weight:700;letter-spacing:0.000px;">T</div>
<div class="t" style="left:1062.50px;top:724.20px;font-size:22.8px;line-height:22.8px;color:#191b23;font-weight:400;letter-spacing:0.830px;">40,500</div>
<div class="t" style="left:1206.42px;top:724.20px;font-size:22.8px;line-height:22.8px;color:#191b23;font-weight:400;letter-spacing:-0.300px;">51</div>
<div style="position:absolute;left:1245px;top:726px;width:19px;height:19px;border-radius:50%;background:#f08a50"></div>
<div class="t" style="left:1352.40px;top:724.20px;font-size:22.8px;line-height:22.8px;color:#191b23;font-weight:400;letter-spacing:0.570px;">0.96</div>
<div class="t" style="left:1445.21px;top:724.20px;font-size:22.8px;line-height:22.8px;color:#191b23;font-weight:400;letter-spacing:-0.300px;">1.00</div>
<svg style="position:absolute;left:1514px;top:724.5px;overflow:visible" width="26" height="22" viewBox="0 0 26 22"><path d="M1 0.5 H24.3 V7.7 L21 4.3 H3.9 V17.3 H9.1 L11.7 20.2 H1 Z" fill="#a6a9b3" stroke="#a6a9b3" stroke-width="0.6" stroke-linejoin="round"/><circle cx="17.3" cy="13.4" r="4.1" fill="none" stroke="#a6a9b3" stroke-width="2.9"/><path d="M20.3 16.5 L23 19.3" stroke="#a6a9b3" stroke-width="2.9" stroke-linecap="round"/></svg>
<div style="position:absolute;left:1553px;top:719.5px;width:1.5px;height:31px;box-sizing:border-box;background:#d0d2d9"></div>
<div class="t" style="left:1567.00px;top:724.45px;font-size:22.5px;line-height:22.5px;color:#5e616c;font-weight:400;letter-spacing:0.000px;">7</div>
<div style="position:absolute;left:1567px;top:752.5px;width:5px;height:1.5px;box-sizing:border-box;background:#8a8e9b"></div>
<div style="position:absolute;left:1575px;top:752.5px;width:5px;height:1.5px;box-sizing:border-box;background:#8a8e9b"></div>
<div style="position:absolute;left:437.5px;top:770px;width:1px;height:69px;box-sizing:border-box;background:#f9f9fb"></div>
<div style="position:absolute;left:1149px;top:770px;width:1px;height:69px;box-sizing:border-box;background:#f9f9fb"></div>
<div style="position:absolute;left:1276.5px;top:770px;width:1px;height:69px;box-sizing:border-box;background:#f9f9fb"></div>
<div style="position:absolute;left:1411.5px;top:770px;width:1px;height:69px;box-sizing:border-box;background:#f9f9fb"></div>
<div style="position:absolute;left:1501.5px;top:770px;width:1px;height:69px;box-sizing:border-box;background:#f9f9fb"></div>
<div style="position:absolute;left:368px;top:839px;width:1232px;height:1.6px;box-sizing:border-box;background:#e4e5eb"></div>
<div style="position:absolute;left:400px;top:790px;width:25px;height:25px;box-sizing:border-box;background:#fff;border:2px solid #c6c8d0;border-radius:5px"></div>
<svg style="position:absolute;left:450px;top:790.5px;overflow:visible" width="27" height="27" viewBox="0 0 27 27"><circle cx="13.5" cy="13.5" r="11.2" fill="none" stroke="#a6a9b3" stroke-width="2.7"/><path d="M13.5 8.3 V18.7 M8.3 13.5 H18.7" stroke="#a6a9b3" stroke-width="2.9" stroke-linecap="round"/></svg>
<div class="t" style="left:482.50px;top:795.38px;font-size:22px;line-height:22px;color:#1f63c6;font-weight:400;letter-spacing:0.991px;">portable dishwasher</div>
<svg style="position:absolute;left:707.4px;top:799px;overflow:visible" width="20" height="16" viewBox="0 0 20 16"><path d="M2 2 L8 8 L2 14 M10.5 2 L16.5 8 L10.5 14" fill="none" stroke="#a6a9b3" stroke-width="3" stroke-linecap="round" stroke-linejoin="round"/></svg>
<div style="position:absolute;left:889px;top:793.4px;width:25.5px;height:25px;box-sizing:border-box;background:#aeebca;border-radius:5px"></div>
<div class="t" style="left:896.40px;top:795.74px;font-size:18.5px;line-height:18.5px;color:#1b5c4a;font-weight:700;letter-spacing:0.000px;">T</div>
<div class="t" style="left:1062.50px;top:794.20px;font-size:22.8px;line-height:22.8px;color:#191b23;font-weight:400;letter-spacing:0.830px;">40,500</div>
<div class="t" style="left:1205.50px;top:794.20px;font-size:22.8px;line-height:22.8px;color:#191b23;font-weight:400;letter-spacing:0.621px;">47</div>
<div style="position:absolute;left:1245px;top:796px;width:19px;height:19px;border-radius:50%;background:#f3c94f"></div>
<div class="t" style="left:1352.80px;top:794.20px;font-size:22.8px;line-height:22.8px;color:#191b23;font-weight:400;letter-spacing:0.436px;">0.45</div>
<div class="t" style="left:1445.21px;top:794.20px;font-size:22.8px;line-height:22.8px;color:#191b23;font-weight:400;letter-spacing:-0.300px;">1.00</div>
<svg style="position:absolute;left:1514px;top:794.5px;overflow:visible" width="26" height="22" viewBox="0 0 26 22"><path d="M1 0.5 H24.3 V7.7 L21 4.3 H3.9 V17.3 H9.1 L11.7 20.2 H1 Z" fill="#a6a9b3" stroke="#a6a9b3" stroke-width="0.6" stroke-linejoin="round"/><circle cx="17.3" cy="13.4" r="4.1" fill="none" stroke="#a6a9b3" stroke-width="2.9"/><path d="M20.3 16.5 L23 19.3" stroke="#a6a9b3" stroke-width="2.9" stroke-linecap="round"/></svg>
<div style="position:absolute;left:1553px;top:789.5px;width:1.5px;height:31px;box-sizing:border-box;background:#d0d2d9"></div>
<div class="t" style="left:1567.00px;top:794.45px;font-size:22.5px;line-height:22.5px;color:#5e616c;font-weight:400;letter-spacing:0.000px;">7</div>
<div style="position:absolute;left:1567px;top:822.5px;width:5px;height:1.5px;box-sizing:border-box;background:#8a8e9b"></div>
<div style="position:absolute;left:1575px;top:822.5px;width:5px;height:1.5px;box-sizing:border-box;background:#8a8e9b"></div>
<div style="position:absolute;left:863px;top:348.5px;width:100px;height:520px;box-sizing:border-box;border:8px solid #b27ff4"></div>
<div style="position:absolute;left:0px;top:800px;width:1600px;height:43px;box-sizing:border-box;background:linear-gradient(rgba(40,40,70,0), rgba(40,40,70,0.05));-webkit-mask-image:linear-gradient(to right, transparent 80px, #000 400px);mask-image:linear-gradient(to right, transparent 80px, #000 400px)"></div>
</body></html>
